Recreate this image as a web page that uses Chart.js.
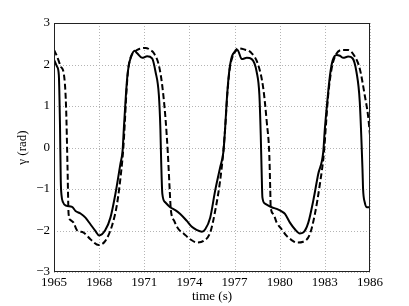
<!DOCTYPE html>
<html>
<head>
<meta charset="utf-8">
<script src="https://cdn.jsdelivr.net/npm/chart.js@4"></script>
<style>
  html, body { margin: 0; padding: 0; background: #fff; }
  #c { display: block; }
</style>
</head>
<body>
<canvas id="c" width="409" height="306"></canvas>
<script>
// ---- data ----
const tSolid = [1965.0,1965.2,1965.32,1965.4,1965.45,1965.5,1965.6,1965.8,1966.2,1966.43,1966.76,1967.09,1967.42,1967.75,1968.0,1968.41,1968.75,1969.08,1969.41,1969.56,1969.64,1969.75,1969.86,1969.97,1970.13,1970.35,1970.53,1970.86,1971.19,1971.52,1971.75,1971.97,1972.07,1972.12,1972.2,1972.39,1972.72,1973.06,1973.39,1973.83,1974.16,1974.5,1974.83,1975.05,1975.38,1975.71,1976.04,1976.26,1976.37,1976.49,1976.64,1976.82,1977.04,1977.19,1977.48,1977.81,1978.14,1978.47,1978.65,1978.74,1978.8,1978.85,1979.02,1979.47,1979.8,1980.13,1980.35,1980.68,1981.01,1981.34,1981.56,1981.9,1982.23,1982.56,1982.89,1983.0,1983.16,1983.34,1983.52,1983.78,1984.0,1984.22,1984.55,1984.84,1985.1,1985.32,1985.5,1985.54,1985.65,1985.8,1986.0];
const ySolid = [2.12,1.95,1.75,0.5,-0.8,-1.15,-1.32,-1.4,-1.43,-1.53,-1.59,-1.69,-1.85,-2.01,-2.12,-1.99,-1.69,-1.12,-0.4,-0.07,0.45,1.1,1.66,1.98,2.19,2.33,2.27,2.16,2.2,2.15,1.82,1.26,0.45,-0.3,-1.12,-1.32,-1.44,-1.51,-1.6,-1.77,-1.91,-1.99,-2.03,-1.97,-1.69,-1.04,-0.48,-0.1,0.45,1.18,1.82,2.19,2.31,2.35,2.13,2.16,2.13,1.82,1.26,0.29,-0.6,-1.2,-1.35,-1.44,-1.48,-1.54,-1.6,-1.81,-1.97,-2.07,-2.05,-1.81,-1.28,-0.64,-0.12,0.45,1.1,1.74,2.1,2.23,2.21,2.16,2.19,2.15,1.82,1.1,-0.52,-1.0,-1.32,-1.44,-1.44];

const tDashed = [1965.0,1965.2,1965.45,1965.65,1965.8,1965.9,1965.97,1966.1,1966.3,1966.52,1966.96,1967.42,1967.97,1968.41,1968.85,1969.19,1969.47,1969.6,1969.7,1969.8,1969.92,1970.1,1970.4,1970.7,1971.09,1971.4,1971.64,1971.97,1972.19,1972.41,1972.56,1972.7,1972.76,1972.99,1973.28,1973.61,1974.05,1974.5,1974.94,1975.38,1975.71,1976.04,1976.26,1976.4,1976.52,1976.68,1976.9,1977.26,1977.58,1978.14,1978.58,1978.91,1979.14,1979.31,1979.37,1979.4,1979.57,1979.8,1980.13,1980.46,1980.79,1981.12,1981.56,1982.0,1982.34,1982.67,1982.94,1983.07,1983.22,1983.45,1983.67,1984.11,1984.55,1984.99,1985.32,1985.65,1985.87,1986.0];
const yDashed = [2.35,2.2,1.95,1.78,1.0,-0.5,-1.6,-1.75,-1.81,-1.99,-2.05,-2.21,-2.35,-2.25,-1.89,-1.36,-0.56,-0.05,0.55,1.25,1.85,2.18,2.32,2.38,2.4,2.35,2.27,1.98,1.5,0.7,-0.11,-1.1,-1.48,-1.77,-1.97,-2.07,-2.21,-2.29,-2.25,-2.05,-1.53,-0.8,-0.07,0.6,1.3,1.9,2.22,2.39,2.37,2.27,1.98,1.42,0.61,-0.19,-1.0,-1.44,-1.6,-1.81,-1.97,-2.13,-2.23,-2.29,-2.27,-2.09,-1.6,-0.88,-0.12,0.53,1.26,1.9,2.19,2.35,2.35,2.19,1.9,1.26,0.77,0.3];

const xTickLabels = ['1965','1968','1971','1974','1977','1980','1983','1986'];
const yTickLabels = ['−3','−2','−1','0','1','2','3'];
const xTitle = 'time (s)';
const yTitle = 'γ (rad)';

// ---- chart ----
const serif = "'Liberation Serif', 'DejaVu Serif', serif";
const pts = (t, y) => t.map((v, i) => ({ x: v, y: y[i] }));

const frame = {
  id: 'frame',
  beforeDatasetsDraw(chart) {
    const { ctx, chartArea: a, scales: { x, y } } = chart;
    ctx.save();
    ctx.strokeStyle = '#b4b4b4';
    ctx.lineWidth = 1;
    ctx.setLineDash([1, 2]);
    x.ticks.forEach(t => {
      const px = Math.round(x.getPixelForValue(t.value)) + 0.5;
      ctx.beginPath(); ctx.moveTo(px, a.top); ctx.lineTo(px, a.bottom); ctx.stroke();
    });
    y.ticks.forEach(t => {
      const py = Math.round(y.getPixelForValue(t.value)) + 0.5;
      ctx.beginPath(); ctx.moveTo(a.left, py); ctx.lineTo(a.right, py); ctx.stroke();
    });
    ctx.restore();
  },
  afterDatasetsDraw(chart) {
    const { ctx, chartArea: a } = chart;
    ctx.save();
    ctx.strokeStyle = '#222';
    ctx.lineWidth = 1;
    ctx.setLineDash([]);
    const L = Math.round(a.left) + 0.5, R = Math.round(a.right) - 0.5;
    const T = Math.round(a.top) + 0.5, B = Math.round(a.bottom) - 0.5;
    ctx.strokeRect(L, T, R - L, B - T);
    ctx.restore();
  }
};

new Chart(document.getElementById('c'), {
  type: 'line',
  data: {
    datasets: [
      {
        data: pts(tSolid, ySolid),
        borderColor: '#000',
        borderWidth: 2,
        pointRadius: 0,
        cubicInterpolationMode: 'monotone',
        fill: false
      },
      {
        data: pts(tDashed, yDashed),
        borderColor: '#000',
        borderWidth: 2,
        borderDash: [6, 3],
        pointRadius: 0,
        cubicInterpolationMode: 'monotone',
        fill: false
      }
    ]
  },
  plugins: [frame],
  options: {
    responsive: false,
    animation: false,
    devicePixelRatio: 1,
    layout: { padding: { left: 0, right: 39, top: 23, bottom: 0 } },
    plugins: { legend: { display: false }, tooltip: { enabled: false } },
    scales: {
      x: {
        type: 'linear',
        min: 1965, max: 1986,
        grid: { display: false, drawTicks: false },
        border: { display: false },
        afterFit(s) { s.height = 34; },
        afterBuildTicks(s) { s.ticks = xTickLabels.map(v => ({ value: Number(v) })); },
        ticks: {
          color: '#000',
          padding: 3,
          maxRotation: 0,
          autoSkip: false,
          font: { family: serif, size: 13 },
          callback: (v, i) => xTickLabels[i]
        },
        title: {
          display: true, text: xTitle, color: '#000',
          font: { family: serif, size: 13 },
          padding: { top: 0, bottom: 2 }
        }
      },
      y: {
        min: -3, max: 3,
        grid: { display: false, drawTicks: false },
        border: { display: false },
        afterFit(s) { s.width = 54; },
        afterBuildTicks(s) { s.ticks = yTickLabels.map((l, i) => ({ value: i - 3 })); },
        ticks: {
          color: '#000',
          padding: 4,
          autoSkip: false,
          font: { family: serif, size: 13 },
          callback: (v, i) => yTickLabels[i]
        },
        title: {
          display: true, text: yTitle, color: '#000',
          font: { family: serif, size: 13 },
          padding: { top: 15, bottom: 0 }
        }
      }
    }
  }
});
</script>
</body>
</html>
